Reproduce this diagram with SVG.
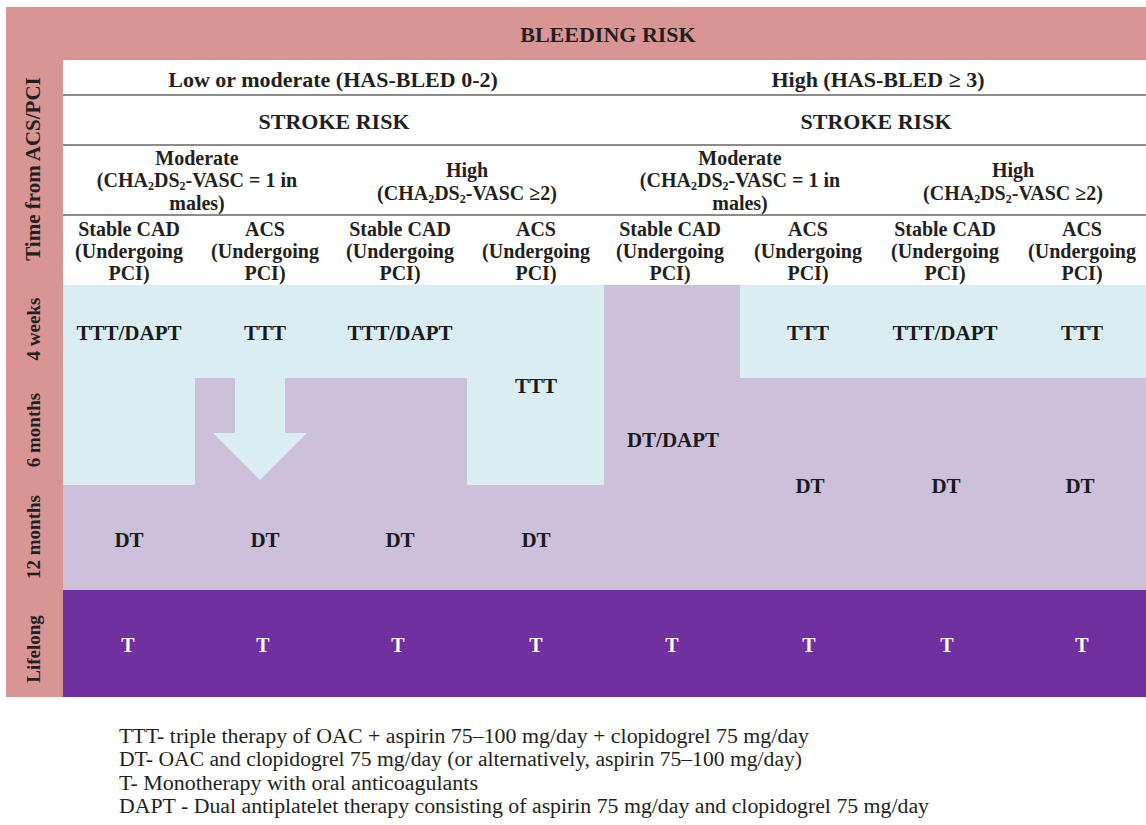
<svg xmlns="http://www.w3.org/2000/svg" width="1146" height="825" viewBox="0 0 1146 825">
<style>
.h{font-family:"Liberation Serif","Times New Roman",serif;font-weight:bold;fill:#231f20;text-anchor:middle}
.h22{font-size:22px}
.h20{font-size:20px}
.ax{font-size:19px}
.b{font-family:"Liberation Serif","Times New Roman",serif;font-weight:bold;font-size:21px;fill:#1a1a1a;text-anchor:middle}
.w{font-family:"Liberation Serif","Times New Roman",serif;font-weight:bold;font-size:20px;fill:#ffffff;text-anchor:middle}
.lg{font-family:"Liberation Serif","Times New Roman",serif;font-size:20.5px;fill:#231f20}
.sep{stroke:#8c8c8c;stroke-width:2}
.blue{fill:#daedf3}
.sub{font-size:12px}
</style>
<rect width="1146" height="825" fill="#ffffff"/>
<g id="frame">
<rect x="6" y="7" width="1140" height="690" fill="#d99594"/>
<rect x="63" y="60" width="1083" height="225" fill="#ffffff"/>
<text class="h h22" x="608" y="42">BLEEDING RISK</text>
</g>
<g id="axis-labels">
<text class="h" font-size="21" transform="translate(40,169) rotate(-90)">Time from ACS/PCI</text>
<text class="h ax" transform="translate(40,329) rotate(-90)">4 weeks</text>
<text class="h ax" transform="translate(40,430) rotate(-90)">6 months</text>
<text class="h ax" transform="translate(40,537) rotate(-90)">12 months</text>
<text class="h ax" transform="translate(40,649) rotate(-90)">Lifelong</text>
</g>
<g id="header">
<line class="sep" x1="63" y1="95" x2="1146" y2="95"/>
<line class="sep" x1="63" y1="145" x2="1146" y2="145"/>
<line class="sep" x1="63" y1="215" x2="1146" y2="215"/>
<text class="h h22" x="333" y="87">Low or moderate (HAS-BLED 0-2)</text>
<text class="h h22" x="878" y="87">High (HAS-BLED ≥ 3)</text>
<text class="h h22" x="334" y="129">STROKE RISK</text>
<text class="h h22" x="876" y="129">STROKE RISK</text>
<g id="stroke-moderate-1">
<text class="h h20" x="197" y="165">Moderate</text>
<text class="h h20" x="197" y="187">(CHA<tspan class="sub" dy="3">2</tspan><tspan dy="-3">DS</tspan><tspan class="sub" dy="3">2</tspan><tspan dy="-3">-VASC = 1 in</tspan></text>
<text class="h h20" x="197" y="210">males)</text>
</g>
<g id="stroke-high-1">
<text class="h h20" x="467" y="177">High</text>
<text class="h h20" x="467" y="200">(CHA<tspan class="sub" dy="3">2</tspan><tspan dy="-3">DS</tspan><tspan class="sub" dy="3">2</tspan><tspan dy="-3">-VASC ≥2)</tspan></text>
</g>
<g id="stroke-moderate-2">
<text class="h h20" x="740" y="165">Moderate</text>
<text class="h h20" x="740" y="187">(CHA<tspan class="sub" dy="3">2</tspan><tspan dy="-3">DS</tspan><tspan class="sub" dy="3">2</tspan><tspan dy="-3">-VASC = 1 in</tspan></text>
<text class="h h20" x="740" y="210">males)</text>
</g>
<g id="stroke-high-2">
<text class="h h20" x="1013" y="177">High</text>
<text class="h h20" x="1013" y="200">(CHA<tspan class="sub" dy="3">2</tspan><tspan dy="-3">DS</tspan><tspan class="sub" dy="3">2</tspan><tspan dy="-3">-VASC ≥2)</tspan></text>
</g>
<g id="col-heads">
<text class="h h20" x="129" y="236">Stable CAD</text><text class="h h20" x="129" y="258">(Undergoing</text><text class="h h20" x="129" y="280">PCI)</text>
<text class="h h20" x="265" y="236">ACS</text><text class="h h20" x="265" y="258">(Undergoing</text><text class="h h20" x="265" y="280">PCI)</text>
<text class="h h20" x="400" y="236">Stable CAD</text><text class="h h20" x="400" y="258">(Undergoing</text><text class="h h20" x="400" y="280">PCI)</text>
<text class="h h20" x="536" y="236">ACS</text><text class="h h20" x="536" y="258">(Undergoing</text><text class="h h20" x="536" y="280">PCI)</text>
<text class="h h20" x="670" y="236">Stable CAD</text><text class="h h20" x="670" y="258">(Undergoing</text><text class="h h20" x="670" y="280">PCI)</text>
<text class="h h20" x="808" y="236">ACS</text><text class="h h20" x="808" y="258">(Undergoing</text><text class="h h20" x="808" y="280">PCI)</text>
<text class="h h20" x="945" y="236">Stable CAD</text><text class="h h20" x="945" y="258">(Undergoing</text><text class="h h20" x="945" y="280">PCI)</text>
<text class="h h20" x="1082" y="236">ACS</text><text class="h h20" x="1082" y="258">(Undergoing</text><text class="h h20" x="1082" y="280">PCI)</text>
</g>
</g>
<g id="body">
<rect x="63" y="285" width="1083" height="305" fill="#ccc0da"/>
<polygon class="blue" points="63,285 604,285 604,485 467,485 467,378 195,378 195,485 63,485"/>
<polygon class="blue" points="235,377 285,377 285,433 307,433 260,480 213,433 235,433"/>
<rect class="blue" x="740" y="285" width="406" height="93"/>
<rect x="63" y="590" width="1083" height="107" fill="#7030a0"/>
</g>
<g id="cells">
<text class="b" x="129" y="340">TTT/DAPT</text>
<text class="b" x="265" y="340">TTT</text>
<text class="b" x="400" y="340">TTT/DAPT</text>
<text class="b" x="536" y="393">TTT</text>
<text class="b" x="808" y="340">TTT</text>
<text class="b" x="945" y="340">TTT/DAPT</text>
<text class="b" x="1082" y="340">TTT</text>
<text class="b" x="673" y="447">DT/DAPT</text>
<text class="b" x="129" y="547">DT</text>
<text class="b" x="265" y="547">DT</text>
<text class="b" x="400" y="547">DT</text>
<text class="b" x="536" y="547">DT</text>
<text class="b" x="810" y="493">DT</text>
<text class="b" x="946" y="493">DT</text>
<text class="b" x="1080" y="493">DT</text>
<text class="w" x="128" y="652">T</text>
<text class="w" x="263" y="652">T</text>
<text class="w" x="398" y="652">T</text>
<text class="w" x="536" y="652">T</text>
<text class="w" x="672" y="652">T</text>
<text class="w" x="809" y="652">T</text>
<text class="w" x="947" y="652">T</text>
<text class="w" x="1082" y="652">T</text>
</g>
<g id="legend">
<text class="lg" x="119" y="743" textLength="690" lengthAdjust="spacingAndGlyphs">TTT- triple therapy of OAC + aspirin 75–100 mg/day + clopidogrel 75 mg/day</text>
<text class="lg" x="119" y="766" textLength="683" lengthAdjust="spacingAndGlyphs">DT- OAC and clopidogrel 75 mg/day (or alternatively, aspirin 75–100 mg/day)</text>
<text class="lg" x="119" y="790" textLength="359" lengthAdjust="spacingAndGlyphs">T- Monotherapy with oral anticoagulants</text>
<text class="lg" x="119" y="813" textLength="810" lengthAdjust="spacingAndGlyphs">DAPT - Dual antiplatelet therapy consisting of aspirin 75 mg/day and clopidogrel 75 mg/day</text>
</g>
</svg>
